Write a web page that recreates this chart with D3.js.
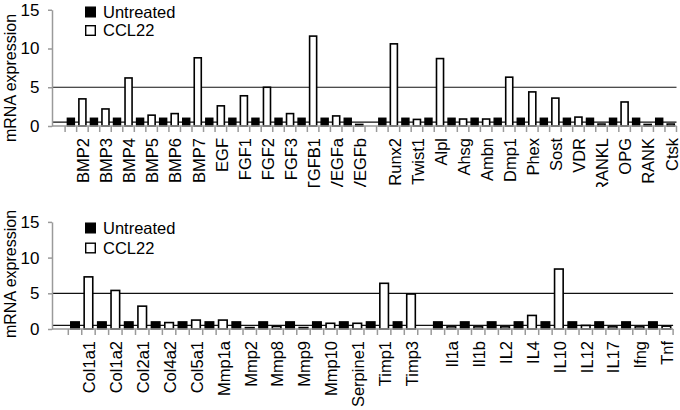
<!DOCTYPE html>
<html><head><meta charset="utf-8">
<script src="https://cdn.jsdelivr.net/npm/d3@7"></script>
<style>
body{margin:0;background:#fff}
svg{display:block}
text{font-family:"Liberation Sans",Arial,sans-serif;fill:#000}
</style>
</head><body>
<svg id="chart" width="680" height="410"></svg>
<script>
// ---------- data ----------
const seriesNames = ["Untreated", "CCL22"];
const yTicks = [0, 5, 10, 15];
const refLines = [0.5, 5];
const yTitle = "mRNA expression";

const topGroupA = ["BMP2","BMP3","BMP4","BMP5","BMP6","BMP7","EGF","FGF1","FGF2","FGF3","TGFB1","VEGFa","VEGFb"];
const topGroupB = ["Runx2","Twist1","Alpl","Ahsg","Ambn","Dmp1","Phex","Sost","VDR","RANKL","OPG","RANK","Ctsk"];
const topUntreated = [1,1,1,1,1,1,1,1,1,1,1,1,1, 1,1,1,1,1,1,1,1,1,1,1,1,1];
const topCCL22 = [3.5,2.2,6.2,1.4,1.6,8.8,2.6,3.9,5.0,1.6,11.6,1.3,0.2,
                  10.6,0.85,8.7,0.9,0.9,6.3,4.4,3.6,1.15,0.25,3.1,0.2,0.25];

const bottomGroupA = ["Col1a1","Col1a2","Col2a1","Col4a2","Col5a1","Mmp1a","Mmp2","Mmp8","Mmp9","Mmp10","Serpine1","Timp1","Timp3"];
const bottomGroupB = ["Il1a","Il1b","IL2","IL4","IL10","IL12","IL17","Ifng","Tnf"];
const bottomUntreated = [1,1,1,1,1,1,1,1,1,1,1,1,1, 1,1,1,1,1,1,1,1,1];
const bottomCCL22 = [7.3,5.4,3.2,0.9,1.25,1.25,0.2,0.35,0.2,0.8,0.8,6.4,4.9,
                     0.3,0.3,0.3,1.9,8.4,0.5,0.3,0.3,0.4];

// ---------- drawing ----------
const svg = d3.select("#chart");
const AXIS_GRAY = "#9a9a9a";
const defs = svg.append("defs");

function drawPanel(p, id) {
  const cats = p.groupA.concat(p.groupB);
  const slots = [];
  p.groupA.forEach(c => slots.push(c + "|U", c + "|C"));
  slots.push("gap");
  p.groupB.forEach(c => slots.push(c + "|U", c + "|C"));

  const x = d3.scaleBand().domain(slots).range([p.x0, p.x1])
    .paddingInner(p.pad).paddingOuter(p.pad / 2);
  const y = d3.scaleLinear().domain([0, 15]).range([p.yb, p.yt]);
  const g = svg.append("g");
  const bw = x.bandwidth();
  const half = (x.step() - bw) / 2;

  // reference lines
  g.selectAll(".ref").data(refLines).join("line")
    .attr("x1", p.axisX).attr("x2", p.x1)
    .attr("y1", d => y(d)).attr("y2", d => y(d))
    .attr("stroke", "#111").attr("stroke-width", 1.2);

  const data = cats.map((c, i) => ({ c, u: p.untreated[i], t: p.ccl22[i] }));

  // untreated bars
  g.selectAll(".u").data(data).join("rect")
    .attr("x", d => x(d.c + "|U")).attr("width", bw)
    .attr("y", d => y(d.u)).attr("height", d => y(0) - y(d.u))
    .attr("fill", "#000").attr("stroke", "#000").attr("stroke-width", 1.4);

  // CCL22 bars
  g.selectAll(".t").data(data).join("rect")
    .attr("x", d => x(d.c + "|C")).attr("width", bw)
    .attr("y", d => y(d.t)).attr("height", d => y(0) - y(d.t))
    .attr("fill", "#fff").attr("stroke", "#000").attr("stroke-width", 1.6);

  // x axis
  g.append("line").attr("x1", p.axisX).attr("x2", p.x1)
    .attr("y1", y(0)).attr("y2", y(0))
    .attr("stroke", AXIS_GRAY).attr("stroke-width", 1.5);
  const bounds = slots.map(s => x(s) - half).concat([x(slots[slots.length - 1]) + bw + half]);
  g.selectAll(".xt").data(bounds).join("line")
    .attr("x1", d => d).attr("x2", d => d)
    .attr("y1", y(0)).attr("y2", y(0) + 6)
    .attr("stroke", AXIS_GRAY).attr("stroke-width", 1.5);

  // y axis
  const ya = g.append("g").attr("transform", `translate(${p.axisX},0)`)
    .call(d3.axisLeft(y).tickValues(yTicks).tickSize(4).tickSizeOuter(0).tickPadding(8.5));
  ya.select(".domain").attr("stroke", AXIS_GRAY).attr("stroke-width", 1.5);
  ya.selectAll(".tick line").attr("stroke", AXIS_GRAY).attr("stroke-width", 1.5);
  ya.selectAll(".tick text").attr("fill", "#000").style("font-size", "17px")
    .style("font-family", '"Liberation Sans",Arial,sans-serif');

  // category labels (clipped like the reference)
  defs.append("clipPath").attr("id", "clip" + id)
    .append("rect").attr("x", 0).attr("y", p.labelTop - 10)
    .attr("width", 680).attr("height", p.labelClip - (p.labelTop - 10));
  g.append("g").attr("clip-path", `url(#clip${id})`)
    .selectAll(".lab").data(cats).join("text")
    .attr("transform", c => `translate(${x(c + "|C") + bw / 2 + 1},${p.labelTop}) rotate(-90)`)
    .attr("text-anchor", "end").attr("dy", "0.35em")
    .style("font-size", "16.5px").text(c => c);

  // y title
  g.append("text")
    .attr("transform", `translate(10,${p.titleY}) rotate(-90)`)
    .attr("text-anchor", "middle").attr("dy", "0.35em")
    .style("font-size", "16px").text(yTitle);

  // legend
  const leg = g.selectAll(".leg").data(seriesNames).join("g")
    .attr("transform", (d, i) => `translate(85,${p.legendY[i]})`);
  leg.append("rect").attr("x", 0.7).attr("y", -10.3).attr("width", 9.6).attr("height", 9.6)
    .attr("fill", (d, i) => i === 0 ? "#000" : "#fff")
    .attr("stroke", "#000").attr("stroke-width", 1.4);
  leg.append("text").attr("x", 18).attr("y", 0).style("font-size", "16.5px").text(d => d);
}

drawPanel({
  groupA: topGroupA, groupB: topGroupB,
  untreated: topUntreated, ccl22: topCCL22,
  x0: 65.1, x1: 676.5, pad: 0.39,
  yb: 126, yt: 9.75, axisX: 52,
  labelTop: 138, labelClip: 187, titleY: 78,
  legendY: [17.5, 36]
}, 0);

drawPanel({
  groupA: bottomGroupA, groupB: bottomGroupB,
  untreated: bottomUntreated, ccl22: bottomCCL22,
  x0: 68.3, x1: 673.1, pad: 0.36,
  yb: 329, yt: 221.9, axisX: 52,
  labelTop: 341, labelClip: 410, titleY: 274,
  legendY: [233.5, 253.5]
}, 1);
</script>
</body></html>
